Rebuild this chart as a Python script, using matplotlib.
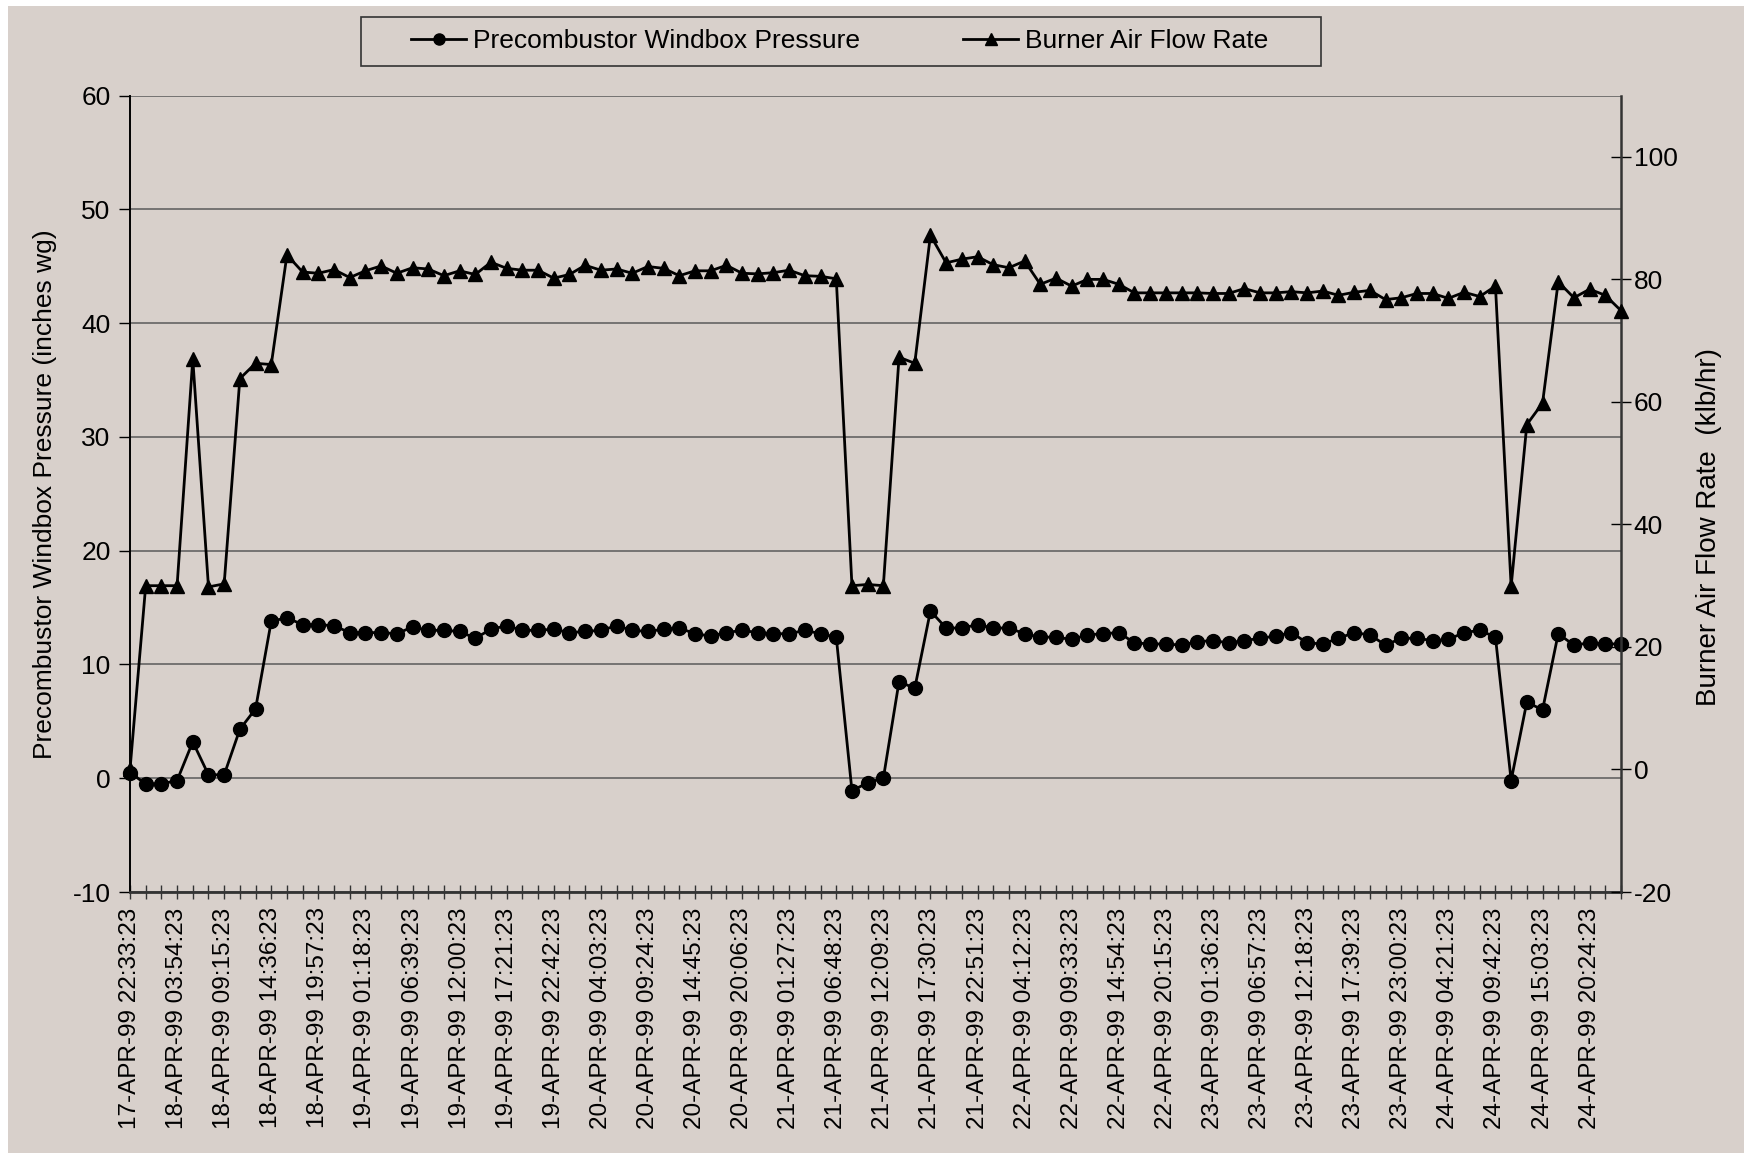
import matplotlib
matplotlib.use("Agg")
import matplotlib.pyplot as plt
from matplotlib.lines import Line2D
from matplotlib.patches import Rectangle

plt.rcParams['font.family'] = ['Liberation Sans', 'DejaVu Sans']
plt.rcParams['axes.unicode_minus'] = False

tick_labels = [
    "17-APR-99 22:33:23", "18-APR-99 03:54:23", "18-APR-99 09:15:23", "18-APR-99 14:36:23",
    "18-APR-99 19:57:23", "19-APR-99 01:18:23", "19-APR-99 06:39:23", "19-APR-99 12:00:23",
    "19-APR-99 17:21:23", "19-APR-99 22:42:23", "20-APR-99 04:03:23", "20-APR-99 09:24:23",
    "20-APR-99 14:45:23", "20-APR-99 20:06:23", "21-APR-99 01:27:23", "21-APR-99 06:48:23",
    "21-APR-99 12:09:23", "21-APR-99 17:30:23", "21-APR-99 22:51:23", "22-APR-99 04:12:23",
    "22-APR-99 09:33:23", "22-APR-99 14:54:23", "22-APR-99 20:15:23", "23-APR-99 01:36:23",
    "23-APR-99 06:57:23", "23-APR-99 12:18:23", "23-APR-99 17:39:23", "23-APR-99 23:00:23",
    "24-APR-99 04:21:23", "24-APR-99 09:42:23", "24-APR-99 15:03:23", "24-APR-99 20:24:23",
]

pressure = [
    0.5, -0.5, -0.5, -0.2, 3.2, 0.3, 0.3, 4.3, 6.1, 13.8,
    14.1, 13.5, 13.5, 13.4, 12.8, 12.8, 12.8, 12.7, 13.3, 13.0,
    13.0, 12.9, 12.3, 13.1, 13.4, 13.0, 13.0, 13.1, 12.8, 12.9,
    13.0, 13.4, 13.0, 12.9, 13.1, 13.2, 12.7, 12.5, 12.8, 13.0,
    12.8, 12.7, 12.7, 13.0, 12.7, 12.4, -1.1, -0.4, 0.0, 8.5,
    7.9, 14.7, 13.2, 13.2, 13.5, 13.2, 13.2, 12.7, 12.4, 12.4,
    12.2, 12.6, 12.7, 12.8, 11.9, 11.8, 11.8, 11.7, 12.0, 12.1,
    11.9, 12.1, 12.3, 12.5, 12.8, 11.9, 11.8, 12.3, 12.8, 12.6,
    11.7, 12.3, 12.3, 12.1, 12.2, 12.8, 13.0, 12.4, -0.2, 6.7,
    6.0, 12.7, 11.7, 11.9, 11.8, 11.8,
]

air_flow = [
    0.0, 30.0, 30.0, 30.0, 67.0, 29.8, 30.3, 63.8, 66.3, 66.1,
    84.0, 81.2, 81.0, 81.6, 80.3, 81.4, 82.2, 81.0, 81.9, 81.7,
    80.6, 81.4, 80.8, 82.8, 81.8, 81.5, 81.5, 80.2, 80.8, 82.3,
    81.5, 81.7, 81.0, 82.1, 81.8, 80.6, 81.4, 81.4, 82.3, 81.0,
    80.9, 81.1, 81.5, 80.6, 80.5, 80.1, 30.0, 30.2, 30.0, 67.3,
    66.3, 87.2, 82.7, 83.3, 83.7, 82.4, 81.9, 83.0, 79.2, 80.2,
    78.9, 80.0, 80.0, 79.2, 77.8, 77.8, 77.8, 77.8, 77.8, 77.7,
    77.7, 78.5, 77.8, 77.8, 78.0, 77.8, 78.1, 77.4, 77.9, 78.2,
    76.7, 77.0, 77.7, 77.7, 76.9, 77.9, 77.2, 78.9, 29.9, 56.3,
    59.8, 79.6, 77.0, 78.4, 77.4, 74.9,
]

BG = "#D8D0CB"
W, H = 1744, 1153
fig = plt.figure(figsize=(W / 100, H / 100), dpi=100, facecolor="white")
fig.patches.append(Rectangle((8 / W, 0), 1 - 8 / W, 1 - 6 / H, transform=fig.transFigure,
                             facecolor=BG, edgecolor="none", zorder=-10))

ax = fig.add_axes([130 / W, 1 - 892 / H, (1621 - 130) / W, (892 - 95.6) / H])
ax.set_facecolor(BG)
x = list(range(len(pressure)))

ax.set_xlim(0, len(pressure) - 1)
ax.set_ylim(-10, 60)
ax.set_yticks(range(-10, 61, 10))
ax.grid(axis="y", color="#5a5a5a", lw=1.1)
ax.set_axisbelow(True)
ax.plot(x, pressure, color="black", lw=2.0, marker="o", markersize=10, clip_on=False, zorder=3)

ax.set_xticks(range(0, len(pressure), 3))
ax.set_xticklabels(tick_labels, rotation=90, fontsize=17.5)
ax.set_xticks(x, minor=True)
ax.tick_params(axis="x", which="both", direction="inout", length=10, width=1, color="#333333", pad=6)
ax.tick_params(axis="y", direction="out", length=8, width=1, labelsize=19, pad=6)
ax.set_ylabel("Precombustor Windbox Pressure (inches wg)", fontsize=19, labelpad=11)

ax.spines["top"].set_visible(False)
ax.spines["left"].set_color("black")
ax.spines["left"].set_linewidth(1.4)
ax.spines["bottom"].set_color("#333333")
ax.spines["bottom"].set_linewidth(2)
ax.spines["right"].set_visible(False)

ax2 = ax.twinx()
ax2.set_ylim(-20, 110)
ax2.set_yticks(range(-20, 101, 20))
ax2.plot(x, air_flow, color="black", lw=2.0, marker="^", markersize=10, clip_on=False, zorder=3)
ax2.tick_params(axis="y", direction="inout", length=14, width=1, labelsize=19, pad=2)
ax2.set_ylabel("Burner Air Flow Rate  (klb/hr)", fontsize=20)
ax2.yaxis.set_label_coords(1.050, 0.458)
for s in ["top", "left", "bottom"]:
    ax2.spines[s].set_visible(False)
ax2.spines["right"].set_color("#333333")
ax2.spines["right"].set_linewidth(1.8)

# legend box
fig.patches.append(Rectangle((361 / W, 1 - 66 / H), (1321 - 361) / W, (66 - 17) / H,
                             transform=fig.transFigure, facecolor=BG, edgecolor="#333333",
                             lw=1.2, zorder=1))
h1 = Line2D([], [], color="black", lw=2, marker="o", markersize=8)
h2 = Line2D([], [], color="black", lw=2, marker="^", markersize=8)
for h, lab, x0 in [(h1, "Precombustor Windbox Pressure", 411), (h2, "Burner Air Flow Rate", 963)]:
    lg = fig.legend([h], [lab], loc="center left", bbox_to_anchor=(x0 / W, 1 - 41 / H),
                    frameon=False, fontsize=19, handlelength=2.1, handletextpad=0.25,
                    borderpad=0, borderaxespad=0)
    lg.set_zorder(5)

fig.savefig("out.png", dpi=100, facecolor="white")
